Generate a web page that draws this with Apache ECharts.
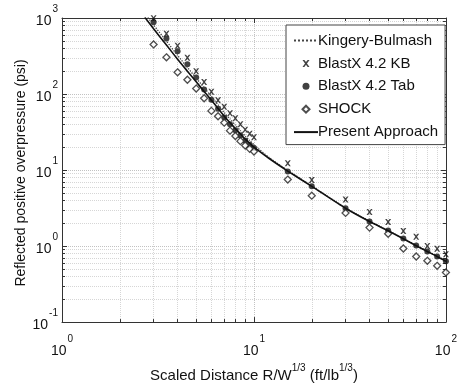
<!DOCTYPE html>
<html>
<head>
<meta charset="utf-8">
<style>
  html, body { margin: 0; padding: 0; background: #fff; }
  #chart { width: 460px; height: 388px; }
</style>
<script src="https://cdn.jsdelivr.net/npm/echarts@6/dist/echarts.min.js"></script>
</head>
<body>
<div id="chart"></div>
<script>
// Scaled distances for the two curves
const curveX = [2.7, 3, 3.5, 4, 4.5, 5, 5.5, 6, 6.5, 7, 7.5, 8, 8.5, 9, 9.5, 10, 12, 15, 20, 30, 40, 50, 60, 70, 80, 90, 100];
// Present approach (psi)
const presentY = [1020, 721, 441, 287, 200, 145, 108, 83, 64.4, 51, 42, 35, 29.8, 25.5, 22.5, 20, 14.2, 9.7, 6.1, 3.14, 2.1, 1.59, 1.25, 1.01, 0.85, 0.73, 0.63];
// Kingery-Bulmash (psi)
const kingeryY = [1150, 810, 495, 322, 224, 162, 121, 93, 72, 57, 47, 39, 33, 28, 24.5, 21.5, 14.6, 9.9, 6.2, 3.18, 2.13, 1.6, 1.26, 1.02, 0.86, 0.74, 0.64];

// Scaled distances of the code results
const pointX = [3, 3.5, 4, 4.5, 5, 5.5, 6, 6.5, 7, 7.5, 8, 8.5, 9, 9.5, 10, 15, 20, 30, 40, 50, 60, 70, 80, 90, 100];
const blastKB = [990, 620, 430, 300, 200, 144, 107, 83, 68, 56, 48, 40, 34, 30, 27, 12.3, 7.4, 4.1, 2.8, 2.07, 1.58, 1.33, 1.0, 0.92, 0.78];
const blastTab = [880, 536, 364, 247, 165, 115, 84, 64, 49, 40, 33.5, 28.5, 24.5, 21.5, 19.5, 9.6, 6.1, 3.15, 2.1, 1.6, 1.26, 1.02, 0.85, 0.73, 0.63];
const shock = [449, 304, 193, 154, 118, 88, 60, 51, 42, 33, 28, 24, 21, 19, 17.5, 7.5, 4.6, 2.73, 1.75, 1.45, 0.93, 0.73, 0.64, 0.55, 0.45];

const seriesNames = ['Kingery-Bulmash', 'BlastX 4.2 KB', 'BlastX 4.2 Tab', 'SHOCK', 'Present Approach'];
const lineNames = ['Kingery-Bulmash', 'Present Approach'];
const yTitle = 'Reflected positive overpressure (psi)';

const FONT = '"Liberation Sans", Arial, Helvetica, sans-serif';
const pairs = (xs, ys) => xs.map((x, i) => [x, ys[i]]);
const crossPath = 'path://M0,0 L2.6,0 L5,3 L7.4,0 L10,0 L6.4,5 L10,10 L7.4,10 L5,7 L2.6,10 L0,10 L3.6,5 Z';
const diamondPath = 'path://M5,0 L10,5 L5,10 L0,5 Z';

const powRich = {
  b: { fontSize: 14, fontFamily: FONT, color: '#111', lineHeight: 24, verticalAlign: 'bottom' },
  e: { fontSize: 10, fontFamily: FONT, color: '#111', verticalAlign: 'top', padding: [0, 0, 0, 1] }
};
const powFormatter = v => '{b|10}{e|' + Math.round(Math.log10(v)) + '}';
const gridLine = { show: true, lineStyle: { color: '#c2c2c2', type: 'dotted', width: 1 } };
const minorGridLine = { show: true, lineStyle: { color: '#d6d6d6', type: 'dotted', width: 1 } };
const frameLine = { show: true, lineStyle: { color: '#333', width: 1 } };
const tickIn = { show: true, inside: true, length: 5, lineStyle: { color: '#333' } };
const minorTickIn = { show: true, splitNumber: 9, length: 3, lineStyle: { color: '#333' } };

const chart = echarts.init(document.getElementById('chart'), null, { renderer: 'canvas' });
chart.setOption({
  backgroundColor: '#fff',
  animation: false,
  grid: { left: 62, top: 18, width: 390, height: 310 },
  // vertical axis title, centred on the plot height
  graphic: [{
    type: 'text',
    x: 21, y: 173,
    rotation: Math.PI / 2,
    style: {
      text: yTitle,
      fontSize: 14, fontFamily: FONT, fill: '#111',
      align: 'center', verticalAlign: 'middle'
    }
  }],
  legend: {
    data: seriesNames.map(n => lineNames.includes(n)
      ? { name: n, itemStyle: { opacity: 0 } }
      : { name: n }),
    orient: 'vertical',
    left: 286,
    top: 25,
    padding: [8, 7, 5, 7],
    itemGap: 7.9,
    itemWidth: 24,
    itemHeight: 7,
    backgroundColor: '#fff',
    borderColor: '#444',
    borderWidth: 1,
    borderRadius: 0,
    textStyle: { fontSize: 15, fontFamily: FONT, color: '#111', padding: [0, 0, 0, -5] }
  },
  xAxis: [{
    type: 'log', logBase: 10, min: 1, max: 100,
    name: '{t|Scaled Distance R/W}{s|1/3}{t| (ft/lb}{s|1/3}{t|)}',
    nameLocation: 'middle', nameGap: 40,
    nameTextStyle: {
      rich: {
        t: { fontSize: 15, fontFamily: FONT, color: '#111', lineHeight: 20, verticalAlign: 'bottom' },
        s: { fontSize: 10, fontFamily: FONT, color: '#111', verticalAlign: 'top' }
      }
    },
    axisLine: frameLine, axisTick: tickIn, minorTick: minorTickIn,
    axisLabel: { margin: 12, formatter: powFormatter, rich: powRich },
    splitLine: gridLine, minorSplitLine: minorGridLine
  }, {
    type: 'log', logBase: 10, min: 1, max: 100, position: 'top',
    axisLine: frameLine, axisTick: tickIn, minorTick: minorTickIn,
    axisLabel: { show: false }, splitLine: { show: false }
  }],
  yAxis: [{
    type: 'log', logBase: 10, min: 0.1, max: 1000,
    axisLine: frameLine, axisTick: tickIn, minorTick: minorTickIn,
    axisLabel: { margin: 4, formatter: powFormatter, rich: powRich, padding: [0, 0, 4, 0] },
    splitLine: gridLine, minorSplitLine: minorGridLine
  }, {
    type: 'log', logBase: 10, min: 0.1, max: 1000, position: 'right',
    axisLine: frameLine, axisTick: tickIn, minorTick: minorTickIn,
    axisLabel: { show: false }, splitLine: { show: false }
  }],
  series: [{
    name: 'Kingery-Bulmash', type: 'line', data: pairs(curveX, kingeryY),
    showSymbol: false, symbol: 'none', clip: true, smooth: 0.2,
    lineStyle: { color: '#444', width: 1.3, type: 'dotted' },
    itemStyle: { color: '#444' }
  }, {
    name: 'Present Approach', type: 'line', data: pairs(curveX, presentY),
    showSymbol: false, symbol: 'none', clip: true, smooth: 0.2,
    lineStyle: { color: '#111', width: 1.6 },
    itemStyle: { color: '#111' }
  }, {
    name: 'BlastX 4.2 KB', type: 'scatter', data: pairs(pointX, blastKB),
    symbol: crossPath, symbolSize: 6, itemStyle: { color: '#111' }
  }, {
    name: 'BlastX 4.2 Tab', type: 'scatter', data: pairs(pointX, blastTab),
    symbol: 'circle', symbolSize: 6, itemStyle: { color: '#111' }
  }, {
    name: 'SHOCK', type: 'scatter', data: pairs(pointX, shock),
    symbol: diamondPath, symbolSize: 7,
    itemStyle: { color: '#fff', borderColor: '#222', borderWidth: 1.3 }
  }]
});
</script>
</body>
</html>
